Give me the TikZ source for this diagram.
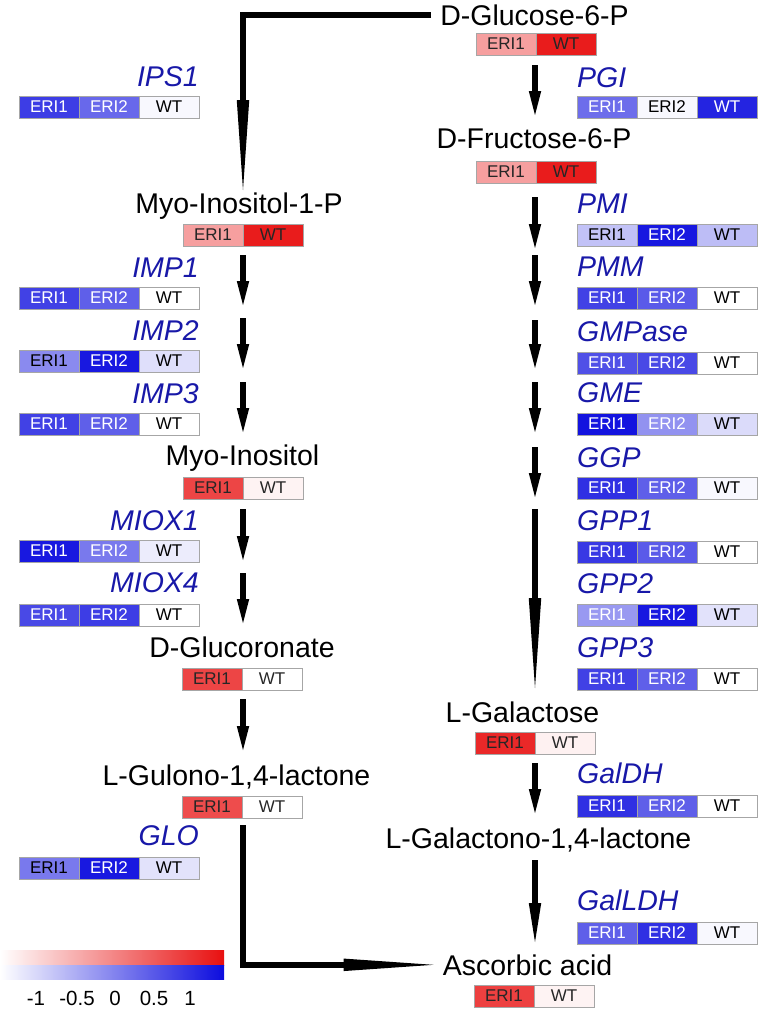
\documentclass[tikz,border=0pt]{standalone}
\usepackage{fontspec}
\setmainfont{Liberation Sans}
\usetikzlibrary{arrows.meta,calc}
\definecolor{bb}{RGB}{12,12,222}
\definecolor{rr}{RGB}{232,16,16}
\definecolor{lbl}{RGB}{24,24,168}
\tikzset{
  cell/.style={draw=black!35,line width=0.8pt,minimum width=60pt,minimum height=22pt,
    inner sep=0pt,outer sep=0pt,font=\fontsize{17}{17}\selectfont},
  met/.style={inner sep=9pt,font=\fontsize{28.5}{30}\selectfont,text=black,anchor=base},
  enz/.style={inner sep=0pt,font=\fontsize{28.5}{30}\selectfont\itshape,text=lbl},
  cbl/.style={inner sep=0pt,font=\fontsize{20.5}{21}\selectfont,anchor=base},
  flow/.style={line width=5.5pt,-{Triangle[length=24pt,width=12.5pt,line width=0pt]}},
  flowmid/.style={line width=5.5pt,-{Triangle[length=39pt,width=12.5pt,line width=0pt]}},
  flowlong/.style={line width=5.5pt,line join=miter,-{Triangle[length=90pt,width=12.5pt,line width=0pt]}},
}
\newcommand{\enzbar}[9]{%
  \node[cell,fill=#4,text=#5,anchor=north west] (#1-1) at (#2,#3) {ERI1};
  \node[cell,fill=#6,text=#7,anchor=north west] (#1-2) at (#1-1.north east) {ERI2};
  \node[cell,fill=#8,text=#9,anchor=north west] (#1-3) at (#1-2.north east) {WT};
}
\newcommand{\metbar}[5]{%
  \node[cell,fill=#4,text=black!85,anchor=north west] (#1-1) at (#2,#3) {ERI1};
  \node[cell,fill=#5,text=black!85,anchor=north west] (#1-2) at (#1-1.north east) {WT};
}
\begin{document}
\begin{tikzpicture}[x=1pt,y=-1pt]
\useasboundingbox (0,0) rectangle (760,1010);

% ---------- metabolites ----------
\node[met] (g6p)  at (534.5,25)  {D-Glucose-6-P};
\metbar{g6pb}{476}{33}{rr!40}{rr!95}
\node[met] (f6p)  at (534,148)   {D-Fructose-6-P};
\metbar{f6pb}{476}{161}{rr!40}{rr!95}
\node[met] (mi1p) at (239,213)   {Myo-Inositol-1-P};
\metbar{mi1pb}{183}{224}{rr!40}{rr!95}
\node[met] (mi)   at (242.5,465) {Myo-Inositol};
\metbar{mib}{183}{477}{rr!78}{rr!5}
\node[met] (dglc) at (242,657)   {D-Glucoronate};
\metbar{dglcb}{182}{668}{rr!78}{white}
\node[met] (lgul) at (236.5,785) {L-Gulono-1,4-lactone};
\metbar{lgulb}{182}{796}{rr!75}{white}
\node[met] (lgal) at (522.5,722) {L-Galactose};
\metbar{lgalb}{475}{732}{rr!90}{rr!6}
\node[met] (lgalL) at (538.5,848) {L-Galactono-1,4-lactone};
\node[met] (asc)  at (527.5,975) {Ascorbic acid};
\metbar{ascb}{474}{985}{rr!80}{rr!5}

% ---------- enzymes, left ----------
\node[enz,anchor=base east] (ips1) at (199,86) {IPS1};
\enzbar{ips1b}{19}{96}{bb!80}{white}{bb!62}{white}{bb!3}{black}
\node[enz,anchor=base east] (imp1) at (199,277) {IMP1};
\enzbar{imp1b}{19}{287}{bb!78}{white}{bb!66}{white}{white}{black}
\node[enz,anchor=base east] (imp2) at (199,340) {IMP2};
\enzbar{imp2b}{19}{350}{bb!48}{black}{bb!95}{white}{bb!13}{black}
\node[enz,anchor=base east] (imp3) at (199,403) {IMP3};
\enzbar{imp3b}{19}{413}{bb!78}{white}{bb!66}{white}{white}{black}
\node[enz,anchor=base east] (miox1) at (199,530) {MIOX1};
\enzbar{miox1b}{19}{540}{bb!95}{white}{bb!55}{white}{bb!8}{black}
\node[enz,anchor=base east] (miox4) at (199,592) {MIOX4};
\enzbar{miox4b}{19}{604}{bb!75}{white}{bb!80}{white}{white}{black}
\node[enz,anchor=base east] (glo) at (199,845) {GLO};
\enzbar{glob}{19}{857}{bb!55}{black}{bb!95}{white}{bb!12}{black}

% ---------- enzymes, right ----------
\node[enz,anchor=base west] (pgi) at (577,87) {PGI};
\enzbar{pgib}{577}{96}{bb!60}{white}{bb!3}{black}{bb!90}{white}
\node[enz,anchor=base west] (pmi) at (577,213) {PMI};
\enzbar{pmib}{577}{224}{bb!25}{black}{bb!95}{white}{bb!27}{black}
\node[enz,anchor=base west] (pmm) at (577,276) {PMM};
\enzbar{pmmb}{577}{287}{bb!78}{white}{bb!68}{white}{white}{black}
\node[enz,anchor=base west] (gmpase) at (577,341) {GMPase};
\enzbar{gmpaseb}{577}{352}{bb!72}{white}{bb!75}{white}{white}{black}
\node[enz,anchor=base west] (gme) at (577,402) {GME};
\enzbar{gmeb}{577}{413}{bb!97}{white}{bb!45}{white}{bb!15}{black}
\node[enz,anchor=base west] (ggp) at (577,467) {GGP};
\enzbar{ggpb}{577}{477}{bb!85}{white}{bb!66}{white}{bb!3}{black}
\node[enz,anchor=base west] (gpp1) at (577,530) {GPP1};
\enzbar{gpp1b}{577}{541}{bb!82}{white}{bb!68}{white}{white}{black}
\node[enz,anchor=base west] (gpp2) at (577,593) {GPP2};
\enzbar{gpp2b}{577}{604}{bb!42}{white}{bb!95}{white}{bb!12}{black}
\node[enz,anchor=base west] (gpp3) at (577,657) {GPP3};
\enzbar{gpp3b}{577}{668}{bb!78}{white}{bb!66}{white}{white}{black}
\node[enz,anchor=base west] (galdh) at (577,783) {GalDH};
\enzbar{galdhb}{577}{795}{bb!85}{white}{bb!66}{white}{white}{black}
\node[enz,anchor=base west] (galldh) at (577,910) {GalLDH};
\enzbar{galldhb}{577}{922}{bb!66}{white}{bb!85}{white}{bb!3}{black}

% ---------- arrow end points ----------
\coordinate (mi1pin) at (243,190);
\coordinate (lgulout) at (243,825);
\foreach \n/\x/\a/\b in {pgiA/535/65/115, pmiA/535/197/248, pmmA/535/255/305,
    gmpaseA/535/320/368, gmeA/535/382/432, ggpA/535/447/497, gppA/535/509/688,
    galdhA/535/763/813, galldhA/535/860/942,
    imp1A/243/255/305, imp2A/243/318/368, imp3A/243/382/432,
    miox1A/243/509/560, miox4A/243/573/623, dglcA/243/699/750}{
  \coordinate (\n-s) at (\x,\a);
  \coordinate (\n-e) at (\x,\b);
}

% ---------- connectors ----------
\draw[flowlong] (g6p.west) -| (mi1pin);
\draw[flowlong] (lgulout) |- (asc.west);
\foreach \n in {pgiA,pmiA,pmmA,gmpaseA,gmeA,ggpA,galdhA,imp1A,imp2A,imp3A,miox1A,miox4A,dglcA}{
  \draw[flow] (\n-s) -- (\n-e);
}
\draw[flowlong] (gppA-s) -- (gppA-e);
\draw[flowmid] (galldhA-s) -- (galldhA-e);

% ---------- colour key ----------
\shade[left color=white,right color=rr] (0,950) rectangle (224,965);
\shade[left color=white,right color=bb] (0,965) rectangle (224,979);
\node[cbl] (k1) at (36,1005) {-1};
\node[cbl] (k2) at (77,1005) {-0.5};
\node[cbl] (k3) at (115,1005) {0};
\node[cbl] (k4) at (154,1005) {0.5};
\node[cbl] (k5) at (190,1005) {1};
\end{tikzpicture}
\end{document}
